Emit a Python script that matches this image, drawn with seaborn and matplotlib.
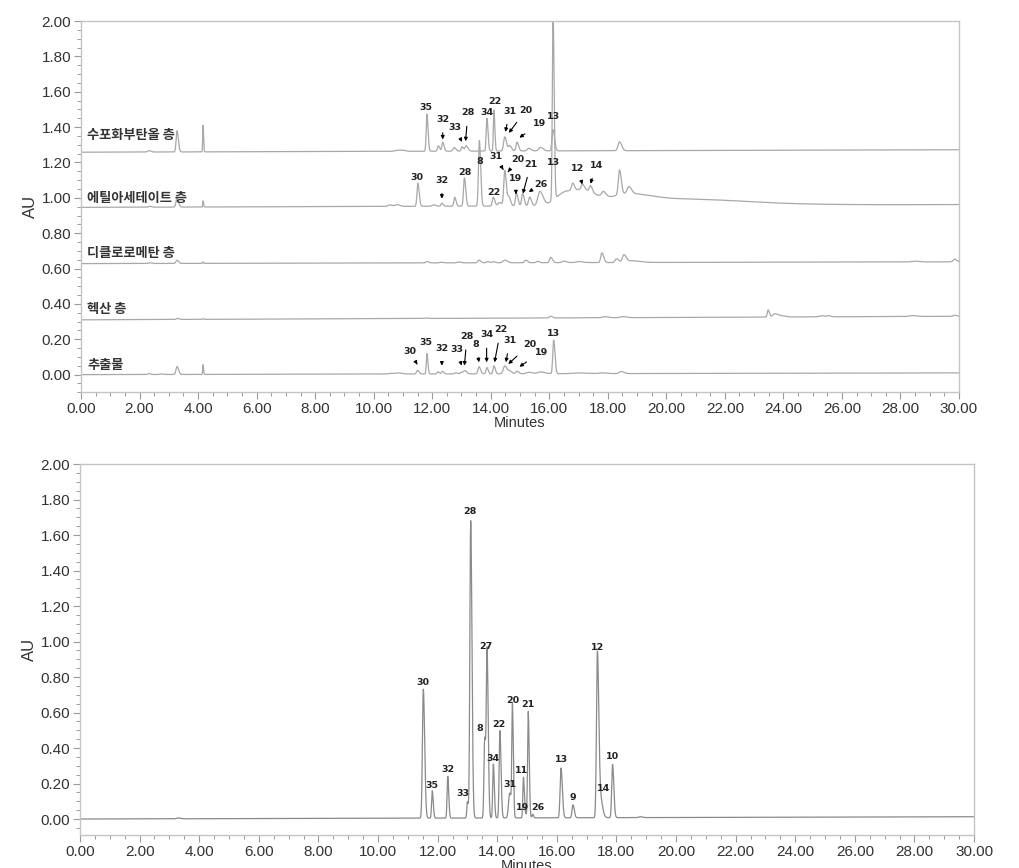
import numpy as np
import pandas as pd
import matplotlib
matplotlib.use("Agg")
import matplotlib.pyplot as plt
from matplotlib.ticker import MultipleLocator, FormatStrFormatter
import seaborn as sns

# ---------------- data ----------------
# time grid (minutes)
t_start, t_end, n_pts = 0.0, 30.0, 6001

# Top panel: five samples (name, baseline at start, baseline at end)
sample_names = ["수포화부탄올 층", "에틸아세테이트 층", "디클로로메탄 층", "헥산 층", "추출물"]
base_start = [1.258, 0.946, 0.628, 0.310, 0.000]
base_end = [1.272, 0.962, 0.638, 0.330, 0.010]
label_y = [1.356, 0.997, 0.690, 0.372, 0.055]

# peaks: retention time, height, width
butanol_rt = [2.32, 3.28, 4.17, 10.8, 11.0, 11.82, 12.21, 12.36, 12.75, 13.02, 13.16, 13.87, 14.11, 14.48, 14.65, 14.9, 15.3, 15.7, 16.13, 18.4]
butanol_h = [0.008, 0.12, 0.15, 0.006, 0.005, 0.21, 0.03, 0.05, 0.02, 0.025, 0.03, 0.185, 0.23, 0.08, 0.03, 0.05, 0.015, 0.02, 0.12, 0.05]
butanol_w = [0.04, 0.03, 0.012, 0.08, 0.06, 0.025, 0.03, 0.03, 0.04, 0.03, 0.04, 0.025, 0.02, 0.04, 0.04, 0.035, 0.05, 0.06, 0.035, 0.05]

ethyl_rt = [2.35, 3.28, 4.17, 10.55, 10.8, 11.51, 12.05, 12.33, 12.77, 13.1, 13.61, 14.09, 14.3, 14.48, 14.62, 14.88, 15.09, 15.33, 15.68, 16.13,
            16.6, 16.8, 17.13, 17.3, 17.41, 17.85, 18.4, 18.6, 18.72, 20.0, 22.0]
ethyl_h = [0.005, 0.05, 0.035, 0.008, 0.01, 0.13, 0.008, 0.017, 0.05, 0.16, 0.37, 0.05, 0.02, 0.2, 0.05, 0.07, 0.07, 0.05, 0.08, 1.04,
           0.08, 0.04, 0.03, 0.05, 0.035, 0.03, 0.14, 0.05, 0.04, 0.03, 0.012]
ethyl_w = [0.04, 0.035, 0.012, 0.06, 0.06, 0.03, 0.05, 0.03, 0.03, 0.03, 0.03, 0.035, 0.05, 0.035, 0.04, 0.035, 0.035, 0.04, 0.07, 0.025,
           0.35, 0.04, 0.04, 0.3, 0.04, 0.06, 0.04, 0.5, 0.06, 1.2, 1.5]

dcm_rt = [2.35, 3.28, 4.17, 11.82, 12.3, 12.9, 13.6, 13.9, 14.1, 14.48, 15.2, 15.6, 16.05, 16.5, 17.0, 17.8, 18.3, 18.55, 18.8, 28.5, 29.85]
dcm_h = [0.004, 0.018, 0.008, 0.008, 0.004, 0.005, 0.015, 0.006, 0.006, 0.015, 0.015, 0.008, 0.03, 0.008, 0.006, 0.055, 0.02, 0.04, 0.01, 0.004, 0.015]
dcm_w = [0.04, 0.035, 0.012, 0.04, 0.05, 0.05, 0.04, 0.05, 0.04, 0.06, 0.04, 0.04, 0.04, 0.06, 0.1, 0.04, 0.05, 0.05, 0.2, 0.1, 0.05]

hexane_rt = [3.3, 4.17, 11.8, 16.05, 17.9, 18.5, 23.48, 23.7, 23.9, 25.3, 25.55, 28.4, 29.85]
hexane_h = [0.006, 0.004, 0.003, 0.01, 0.006, 0.006, 0.04, 0.018, 0.008, 0.006, 0.006, 0.005, 0.006]
hexane_w = [0.04, 0.015, 0.04, 0.04, 0.08, 0.08, 0.03, 0.06, 0.1, 0.08, 0.05, 0.1, 0.05]

extract_rt = [2.32, 2.75, 3.28, 4.17, 10.6, 10.85, 11.5, 11.82, 12.2, 12.35, 12.8, 13.0, 13.12, 13.6, 13.87, 14.11, 14.48, 14.65, 14.9, 15.3, 15.7, 16.15, 17.0, 17.8, 18.45]
extract_h = [0.005, 0.003, 0.045, 0.055, 0.004, 0.006, 0.02, 0.115, 0.012, 0.015, 0.006, 0.01, 0.018, 0.04, 0.035, 0.045, 0.045, 0.015, 0.015, 0.008, 0.01, 0.19, 0.004, 0.004, 0.012]
extract_w = [0.04, 0.05, 0.035, 0.012, 0.08, 0.08, 0.035, 0.022, 0.03, 0.03, 0.04, 0.035, 0.04, 0.035, 0.03, 0.03, 0.05, 0.05, 0.04, 0.08, 0.1, 0.03, 0.2, 0.1, 0.06]

# Bottom panel: standard mixture
std_base_start, std_base_end = 0.0, 0.013
std_rt = [3.3, 11.52, 11.82, 12.34, 13.0, 13.11, 13.58, 13.66, 13.87, 14.09, 14.42, 14.51, 14.88, 14.95, 15.04, 15.19, 16.14, 16.54, 17.36, 17.45, 17.87, 18.8]
std_h = [0.005, 0.727, 0.154, 0.235, 0.092, 1.675, 0.45, 0.918, 0.304, 0.492, 0.14, 0.6, 0.229, 0.02, 0.599, 0.02, 0.28, 0.073, 0.915, 0.12, 0.30, 0.005]
std_w = [0.05, 0.03, 0.022, 0.022, 0.02, 0.028, 0.025, 0.025, 0.022, 0.025, 0.04, 0.02, 0.02, 0.02, 0.022, 0.02, 0.03, 0.03, 0.03, 0.05, 0.028, 0.05]

# Top-panel peak labels: text, label x, label y, arrow target x, arrow target y (None = no arrow)
top_lbl_text = ["35", "32", "33", "28", "34", "22", "31", "20", "19", "13",
                "30", "32", "28", "8", "31", "20", "19", "21", "26", "22", "13", "12", "14",
                "30", "35", "32", "33", "28", "8", "34", "22", "31", "20", "19", "13"]
top_lbl_x = [11.79, 12.36, 12.77, 13.22, 13.87, 14.14, 14.65, 15.20, 15.66, 16.16,
             11.49, 12.33, 13.11, 13.61, 14.17, 14.91, 14.86, 15.37, 15.70, 14.11, 16.16, 16.97, 17.60,
             11.24, 11.80, 12.33, 12.83, 13.19, 13.50, 13.86, 14.34, 14.65, 15.33, 15.72, 16.16]
top_lbl_y = [1.511, 1.443, 1.400, 1.480, 1.480, 1.543, 1.490, 1.496, 1.420, 1.460,
             1.114, 1.100, 1.146, 1.207, 1.231, 1.216, 1.108, 1.190, 1.076, 1.029, 1.197, 1.165, 1.184,
             0.132, 0.180, 0.149, 0.140, 0.215, 0.170, 0.225, 0.253, 0.193, 0.170, 0.126, 0.234]
top_arr_x = [None, 12.36, 13.02, 13.14, None, None, 14.50, 14.62, 14.98, None,
             None, 12.33, None, None, 14.43, 14.59, 14.86, 15.10, 15.30, None, None, 17.13, 17.41,
             11.49, None, 12.33, 13.01, 13.10, 13.60, 13.86, 14.13, 14.52, 14.60, 14.98, None]
top_arr_y = [None, 1.330, 1.316, 1.320, None, None, 1.373, 1.367, 1.340, None,
             None, 0.995, None, None, 1.159, 1.146, 1.020, 1.024, 1.033, None, None, 1.076, 1.080,
             0.057, None, 0.051, 0.051, 0.051, 0.070, 0.070, 0.070, 0.070, 0.060, 0.045, None]

# Bottom-panel peak labels
bot_lbl_text = ["30", "35", "32", "33", "28", "27", "8", "22", "34", "20", "31", "11", "21", "19", "26", "13", "9", "12", "14", "10"]
bot_lbl_x = [11.52, 11.82, 12.34, 12.86, 13.09, 13.62, 13.42, 14.06, 13.87, 14.51, 14.41, 14.82, 15.04, 14.84, 15.36, 16.15, 16.54, 17.36, 17.58, 17.87]
bot_lbl_y = [0.768, 0.188, 0.280, 0.145, 1.731, 0.971, 0.511, 0.530, 0.342, 0.670, 0.197, 0.276, 0.646, 0.064, 0.066, 0.336, 0.122, 0.967, 0.173, 0.355]

y_ticks = [0.0, 0.2, 0.4, 0.6, 0.8, 1.0, 1.2, 1.4, 1.6, 1.8, 2.0]
x_ticks = [0, 2, 4, 6, 8, 10, 12, 14, 16, 18, 20, 22, 24, 26, 28, 30]

# ---------------- helpers ----------------
t = np.linspace(t_start, t_end, n_pts)


def trace(b0, b1, rts, hs, ws, tail=1.5):
    y = np.linspace(b0, b1, t.size)
    for rt, h, w in zip(rts, hs, ws):
        sig = np.where(t < rt, w, w * tail)
        y = y + h * np.exp(-0.5 * ((t - rt) / sig) ** 2)
    return y


sns.set_theme(style="white")
plt.rcParams["font.family"] = ["Liberation Sans", "Noto Sans CJK KR", "DejaVu Sans"]

fig = plt.figure(figsize=(10.19, 8.68), dpi=100)
ax1 = fig.add_axes([0.0795, 0.548, 0.8616, 0.4278])
ax2 = fig.add_axes([0.0785, 0.038, 0.8774, 0.4274])

line_col = "#a8a8a8"
spine_col = "#c4c4c4"

top_peaks = [(butanol_rt, butanol_h, butanol_w), (ethyl_rt, ethyl_h, ethyl_w),
             (dcm_rt, dcm_h, dcm_w), (hexane_rt, hexane_h, hexane_w),
             (extract_rt, extract_h, extract_w)]
frames = []
for name, b0, b1, (rts, hs, ws) in zip(sample_names, base_start, base_end, top_peaks):
    frames.append(pd.DataFrame({"Minutes": t, "AU": trace(b0, b1, rts, hs, ws), "sample": name}))
top_df = pd.concat(frames, ignore_index=True)
sns.lineplot(data=top_df, x="Minutes", y="AU", units="sample", estimator=None, sort=False,
             color=line_col, linewidth=0.9, ax=ax1, legend=False)

std_df = pd.DataFrame({"Minutes": t, "AU": trace(std_base_start, std_base_end, std_rt, std_h, std_w)})
sns.lineplot(data=std_df, x="Minutes", y="AU", estimator=None, sort=False,
             color="#8a8a8a", linewidth=0.9, ax=ax2, legend=False)

# sample labels
for name, ly in zip(sample_names, label_y):
    ax1.text(0.22, ly, name, fontsize=9.5, fontweight="bold", color="#333333",
             family=["Noto Sans CJK KR", "DejaVu Sans"], ha="left", va="center")

num_font = dict(fontsize=6.8, fontweight="bold", color="#222222", family=["DejaVu Sans"])
for txt, lx, ly, axx, axy in zip(top_lbl_text, top_lbl_x, top_lbl_y, top_arr_x, top_arr_y):
    if axx is None:
        ax1.text(lx, ly, txt, ha="center", va="center", **num_font)
    else:
        ax1.annotate(txt, xy=(axx, axy), xytext=(lx, ly), ha="center", va="center",
                     arrowprops=dict(arrowstyle="-|>", color="black", lw=0.8,
                                     mutation_scale=5, shrinkA=4, shrinkB=0),
                     **num_font)

for txt, lx, ly in zip(bot_lbl_text, bot_lbl_x, bot_lbl_y):
    ax2.text(lx, ly, txt, ha="center", va="center", **num_font)

for ax, ylo in [(ax1, -0.10), (ax2, -0.09)]:
    ax.set_xlim(0, 30)
    ax.set_ylim(ylo, 2.0)
    ax.set_xticks(x_ticks)
    ax.set_yticks(y_ticks)
    ax.xaxis.set_minor_locator(MultipleLocator(0.5))
    ax.yaxis.set_minor_locator(MultipleLocator(0.05))
    ax.xaxis.set_major_formatter(FormatStrFormatter("%.2f"))
    ax.yaxis.set_major_formatter(FormatStrFormatter("%.2f"))
    ax.tick_params(axis="both", which="major", direction="out", length=5, width=0.8,
                   color="#9a9a9a", labelsize=11, labelcolor="#333333", pad=2,
                   bottom=True, left=True)
    ax.tick_params(axis="both", which="minor", direction="out", length=3, width=0.7,
                   color="#9a9a9a", bottom=True, left=True)
    for sp in ax.spines.values():
        sp.set_color(spine_col)
        sp.set_linewidth(1.0)
    ax.set_xlabel("Minutes", fontsize=10.5, color="#333333", labelpad=0)
    ax.set_ylabel("AU", fontsize=12, color="#333333", labelpad=3)
    ax.grid(False)

fig.savefig("out.png", dpi=100)
